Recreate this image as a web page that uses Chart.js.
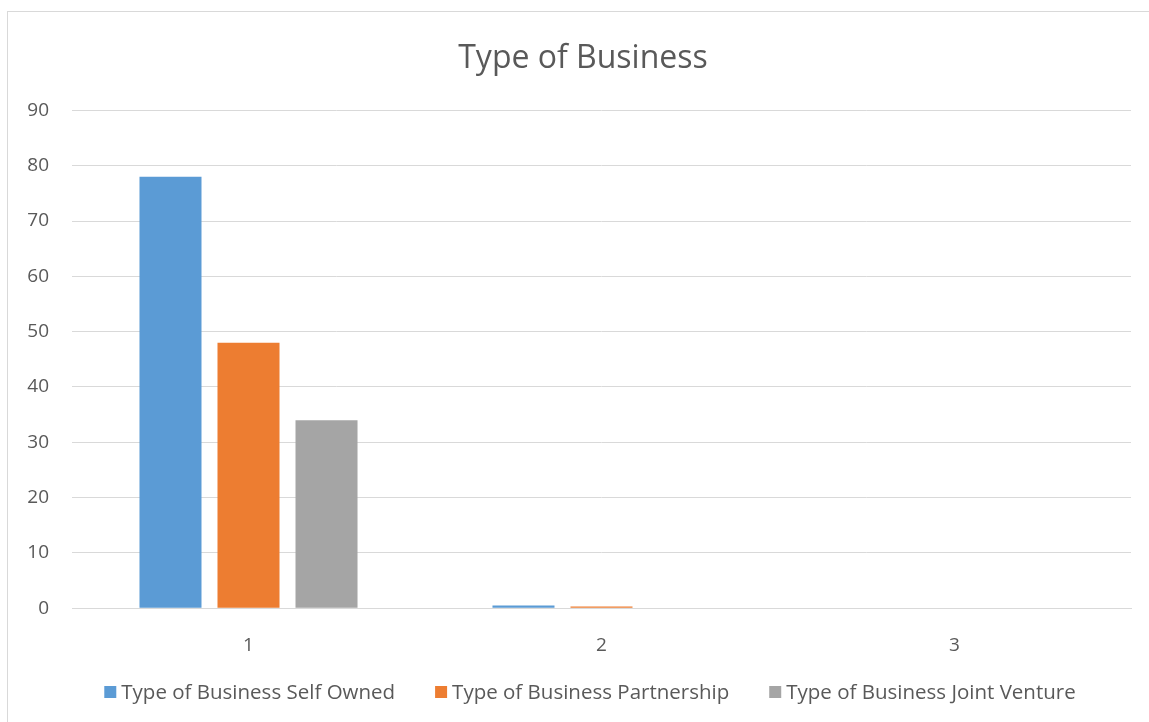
<!DOCTYPE html>
<html>
<head>
<meta charset="utf-8">
<script src="https://cdn.jsdelivr.net/npm/chart.js@4"></script>
<style>
  body { margin: 0; background: #fff; overflow: hidden; }
  #box {
    position: absolute; left: 7px; top: 11px;
    width: 1160px; height: 720px;
    border: 1px solid #d9d9d9; box-sizing: border-box;
  }
  #wrap { position: absolute; left: 0; top: 0; width: 1150px; height: 709px; }
</style>
</head>
<body>
<div id="box"><div id="wrap"><canvas id="chart"></canvas></div></div>
<script>
const categories = ['1', '2', '3'];
const selfOwned = [78, 0.5, 0];
const partnership = [48, 0.3, 0];
const jointVenture = [34, 0.1, 0];

const font = "'Open Sans', sans-serif";
const textColor = '#595959';

// legend row under the axis: small square, label, wide gap to the next one
const bottomLegend = {
    id: 'bottomLegend',
    afterDraw(c) {
        const ctx = c.ctx;
        const box = 12, gap = 5, spacing = 40;
        ctx.save();
        ctx.font = "20.5px 'Open Sans', sans-serif";
        ctx.textBaseline = 'middle';
        const items = c.data.datasets.map(ds => ({
            label: ds.label, color: ds.backgroundColor, w: ctx.measureText(ds.label).width
        }));
        const total = items.reduce((s, it) => s + box + gap + it.w, 0) + spacing * (items.length - 1);
        let x = 582 - total / 2;
        const y = 680;
        items.forEach(it => {
            ctx.fillStyle = it.color;
            ctx.fillRect(x, y - box / 2, box, box);
            ctx.fillStyle = textColor;
            ctx.fillText(it.label, x + box + gap, y + 1);
            x += box + gap + it.w + spacing;
        });
        ctx.restore();
    }
};

const chart = document.querySelector('#chart').getContext('2d');

// clustered columns, one series per business type
new Chart(chart, {
    type: 'bar',
    data: {
        labels: categories,
        datasets: [
            { label: 'Type of Business Self Owned', data: selfOwned, backgroundColor: '#5B9BD5' },
            { label: 'Type of Business Partnership', data: partnership, backgroundColor: '#ED7D31' },
            { label: 'Type of Business Joint Venture', data: jointVenture, backgroundColor: '#A5A5A5' }
        ]
    },
    options: {
        responsive: true,
        maintainAspectRatio: false,
        animation: false,
        categoryPercentage: 0.663,
        barPercentage: 0.795,
        layout: { padding: { left: 0, right: 0, top: 0, bottom: 46 } },
        plugins: {
            tooltip: { enabled: false },
            legend: { display: false },
            title: {
                display: true,
                text: 'Type of Business',
                color: textColor,
                font: { family: font, size: 32, weight: 'normal' },
                padding: { top: 28, bottom: 32 }
            }
        },
        scales: {
            x: {
                grid: { display: false },
                border: { color: '#d9d9d9', width: 1 },
                ticks: { color: textColor, font: { family: font, size: 19 }, padding: 18 }
            },
            y: {
                min: 0,
                max: 90,
                ticks: { stepSize: 10, color: textColor, font: { family: font, size: 19 }, padding: 23 },
                grid: { color: '#d9d9d9', drawTicks: false },
                border: { display: false },
                afterFit: (scale) => { scale.width = 64; }
            },
            // empty right-hand margin so the plot stops short of the frame
            right: {
                position: 'right',
                min: 0,
                max: 90,
                ticks: { display: false },
                grid: { display: false },
                border: { display: false },
                afterFit: (scale) => { scale.width = 27; }
            }
        }
    },
    plugins: [bottomLegend]
});
</script>
</body>
</html>
